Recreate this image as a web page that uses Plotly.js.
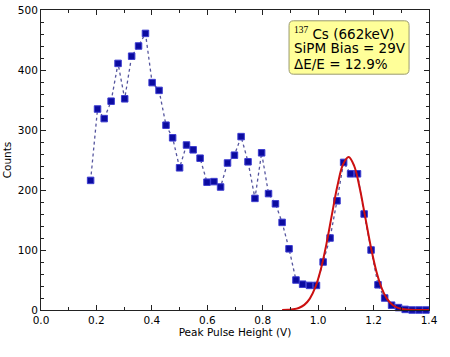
<!DOCTYPE html>
<html>
<head>
<meta charset="utf-8">
<script src="https://cdn.plot.ly/plotly-3.0.1.min.js"></script>
<style>
html,body{margin:0;padding:0;background:#fff;}
#chart{width:450px;height:357px;}
</style>
</head>
<body>
<div id="chart"></div>
<script>
// Measured spectrum: peak pulse height (V) and counts
const pulseHeight = [0.179,0.204,0.228,0.253,0.278,0.302,0.327,0.352,0.377,0.401,
  0.426,0.451,0.475,0.500,0.525,0.549,0.574,0.599,0.624,0.648,
  0.673,0.698,0.722,0.747,0.772,0.796,0.821,0.846,0.870,0.895,
  0.920,0.944,0.969,0.994,1.018,1.043,1.068,1.092,1.117,1.142,
  1.166,1.191,1.216,1.240,1.265,1.290,1.314,1.339,1.364,1.389];
const counts = [216,335,319,348,411,352,423,440,461,379,
  366,308,287,237,275,267,253,213,214,205,
  245,258,289,247,186,262,194,177,146,102,
  50,43,41,41,80,120,182,246,227,227,
  160,100,42,20,8,4,1,0,0,0];

// Gaussian fit curve
const fitX = [0.87,0.89,0.91,0.93,0.95,0.97,0.99,1.01,1.03,1.05,1.07,1.09,1.11,
  1.13,1.15,1.17,1.19,1.21,1.23,1.25,1.27,1.29,1.31,1.33,1.35,1.37,1.40];
const fitY = [0.1,0.4,1.2,3.4,8.5,19.0,38.0,68.3,110.2,159.7,207.8,242.9,255.0,
  240.3,203.4,154.7,105.6,64.7,35.7,17.6,7.8,3.1,1.1,0.4,0.1,0.0,0.0];

// Annotation text lines
const infoLines = [
  "<sup><span style=\"font-family:'Liberation Serif'\">137</span></sup> Cs (662keV)",
  "SiPM Bias = 29V",
  "\u0394E/E = 12.9%"
];

const xLabel = "Peak Pulse Height (V)";
const yLabel = "Counts";

const traces = [
  {
    x: pulseHeight, y: counts, type: 'scatter', mode: 'lines+markers',
    line: {color: '#55559e', width: 1.3, dash: 'dot'},
    marker: {symbol: 'square', size: 6.5, color: '#0b0ba0', line: {color: '#3c3cd0', width: 1}},
    hoverinfo: 'skip', cliponaxis: false
  },
  {
    x: fitX, y: fitY, type: 'scatter', mode: 'lines',
    line: {color: '#cc1010', width: 2, shape: 'spline'},
    hoverinfo: 'skip'
  }
];

const annY = [461, 436, 410];
const annotations = infoLines.map((t, i) => ({
  x: 0.905, y: annY[i], xref: 'x', yref: 'y', xanchor: 'left', yanchor: 'middle',
  text: t, showarrow: false,
  font: {family: 'DejaVu Sans', size: 13.5, color: '#000'}
}));

const bx0 = 0.895, bx1 = 1.328, by0 = 393, by1 = 482, rx = 0.016, ry = 8;
const boxPath = `M ${bx0+rx},${by1} L ${bx1-rx},${by1} Q ${bx1},${by1} ${bx1},${by1-ry} ` +
  `L ${bx1},${by0+ry} Q ${bx1},${by0} ${bx1-rx},${by0} L ${bx0+rx},${by0} ` +
  `Q ${bx0},${by0} ${bx0},${by0+ry} L ${bx0},${by1-ry} Q ${bx0},${by1} ${bx0+rx},${by1} Z`;

const axisCommon = {
  showgrid: false, zeroline: false, showline: true, linecolor: '#222', linewidth: 1,
  mirror: 'allticks', ticks: 'inside', ticklen: 5, tickcolor: '#222', tickwidth: 1,
  tickfont: {family: 'DejaVu Sans', size: 10.5, color: '#000'}
};

const layout = {
  width: 450, height: 357,
  margin: {l: 41, r: 21, t: 10, b: 47},
  paper_bgcolor: '#fff', plot_bgcolor: '#fff',
  showlegend: false,
  xaxis: Object.assign({}, axisCommon, {
    range: [0, 1.4], dtick: 0.2, tick0: 0, tickformat: '.1f',
    minor: {dtick: 0.1, ticks: 'inside', ticklen: 3, tickcolor: '#222'},
    title: {text: xLabel, font: {family: 'DejaVu Sans', size: 10.5, color: '#000'}, standoff: 3}
  }),
  yaxis: Object.assign({}, axisCommon, {
    range: [0, 500], dtick: 100, tick0: 0,
    minor: {dtick: 20, ticks: 'inside', ticklen: 3, tickcolor: '#222'},
    title: {text: yLabel, font: {family: 'DejaVu Sans', size: 10.5, color: '#000'}, standoff: 4}
  }),
  shapes: [{
    type: 'path', xref: 'x', yref: 'y', path: boxPath,
    fillcolor: '#ffff99', line: {color: '#9a9a70', width: 1}, layer: 'above'
  }],
  annotations: annotations
};

Plotly.newPlot('chart', traces, layout, {staticPlot: true, displayModeBar: false});
</script>
</body>
</html>
